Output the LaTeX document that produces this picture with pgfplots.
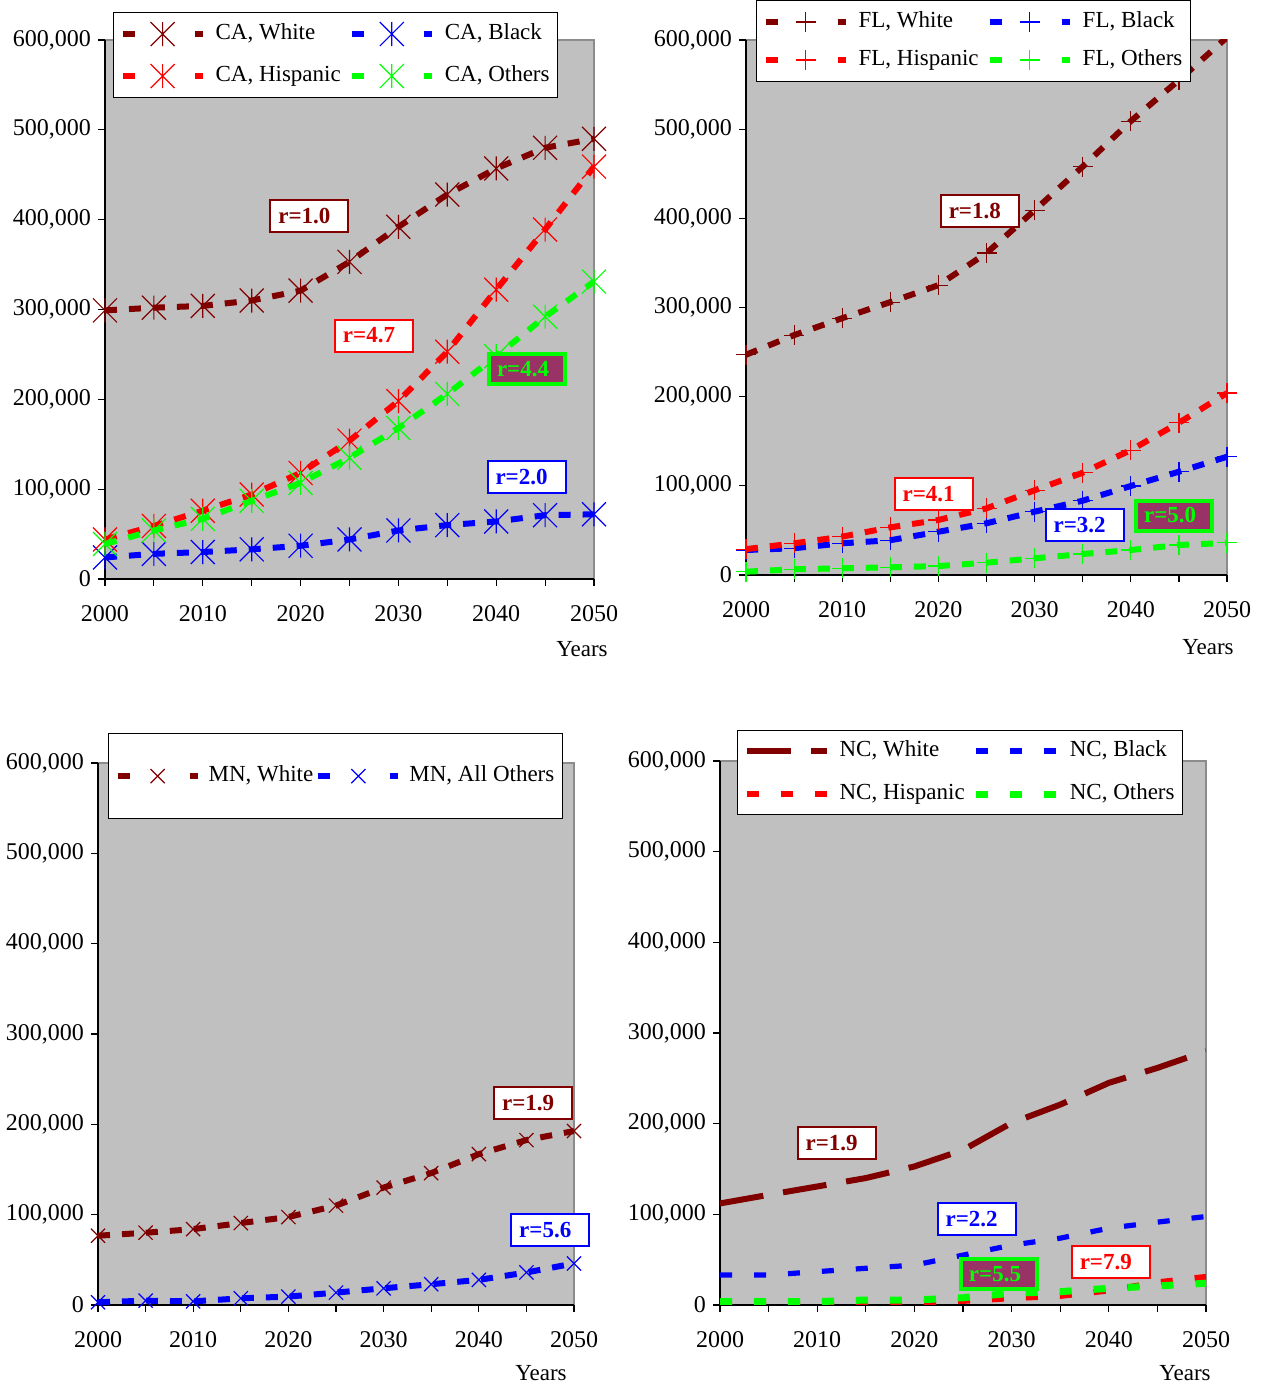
\documentclass[border=0pt]{standalone}
\usepackage{fontspec}
\setmainfont{Liberation Serif}
\usepackage{pgfplots}
\usepackage{pgfplotstable}
\pgfplotsset{compat=1.18}

\definecolor{darkred}{HTML}{800000}
\definecolor{xblue}{HTML}{0000FF}
\definecolor{xred}{HTML}{FF0000}
\definecolor{xgreen}{HTML}{00FF00}
\definecolor{plum}{HTML}{993366}
\definecolor{plotgray}{HTML}{C0C0C0}
\definecolor{bordergray}{HTML}{8C8C8C}

% star marker: a diagonal cross with a vertical bar through it
\pgfdeclareplotmark{xstar}{%
  \pgfpathmoveto{\pgfqpoint{-\pgfplotmarksize}{-\pgfplotmarksize}}%
  \pgfpathlineto{\pgfqpoint{\pgfplotmarksize}{\pgfplotmarksize}}%
  \pgfpathmoveto{\pgfqpoint{-\pgfplotmarksize}{\pgfplotmarksize}}%
  \pgfpathlineto{\pgfqpoint{\pgfplotmarksize}{-\pgfplotmarksize}}%
  \pgfpathmoveto{\pgfqpoint{0pt}{-\pgfplotmarksize}}%
  \pgfpathlineto{\pgfqpoint{0pt}{\pgfplotmarksize}}%
  \pgfusepathqstroke}

% population tables (persons)
\pgfplotstableread{
year white black hisp others
2000 299000 24000 44000 39000
2005 302000 28000 59000 54000
2010 304000 30000 76000 67000
2015 310000 33000 94000 87000
2020 321000 37000 118000 107000
2025 353000 44000 154000 135000
2030 392000 54000 198000 168000
2035 428000 60000 253000 206000
2040 457000 64000 322000 248000
2045 480000 71000 389000 292000
2050 490000 72000 459000 331000
}\ca

\pgfplotstableread{
year white black hisp others
2000 247000 28000 29000 3700
2005 269000 30000 35500 6400
2010 288000 35500 43000 7500
2015 306000 39000 53400 8600
2020 325000 48500 61700 10000
2025 361000 58000 74700 13800
2030 409000 71000 95000 18700
2035 458000 83300 114700 23500
2040 509000 99800 140000 28000
2045 555000 115800 170700 33600
2050 603000 132600 204000 36000
}\fl

\pgfplotstableread{
year white others
2000 76700 3000
2005 80000 4800
2010 84000 4000
2015 90700 7400
2020 97400 9300
2025 110000 13700
2030 130000 18500
2035 146000 23000
2040 167000 27800
2045 182600 36000
2050 192600 46000
}\mn

\pgfplotstableread{
year white black hisp others
2000 112000 33000 1000 3700
2005 121500 33000 1300 3700
2010 130700 36800 1700 3700
2015 140000 40500 2000 5500
2020 152800 44000 2500 5500
2025 171000 55000 4500 8000
2030 200800 66000 7500 13000
2035 221000 73700 10000 14700
2040 245000 84700 16000 18400
2045 261500 91400 25000 21000
2050 280000 97600 31000 24000
}\nc

\newcommand{\txt}{\fontsize{11.5}{13}\selectfont}
\newcommand{\ticktxt}{\fontsize{12}{14}\selectfont}

\tikzset{
  rdash/.style={line width=3pt, dash pattern=on 6pt off 6pt},
  rbox/.style={draw=#1, text=#1, fill=white, line width=1pt,
    font=\bfseries\txt, inner xsep=4pt, text width=31pt, align=left,
    minimum height=16pt},
  gbox/.style={draw=xgreen, text=xgreen, fill=plum, line width=2pt,
    font=\bfseries\txt, inner xsep=4pt, text width=30pt, align=left,
    minimum height=15pt},
}

\pgfplotsset{
  statepanel/.style={
    scale only axis,
    xmin=2000, xmax=2050, ymin=0, ymax=600000,
    xtick={2000,2010,...,2050},
    minor xtick={2005,2015,...,2045},
    ytick={0,100000,...,600000},
    tick align=outside,
    major tick length=3.5pt, minor tick length=3.5pt,
    tick style={black, line width=0.6pt},
    axis x line*=bottom, axis y line*=left,
    axis line style={black, line width=0.8pt},
    axis background/.style={fill=plotgray, draw=bordergray, line width=1pt},
    scaled y ticks=false, scaled x ticks=false,
    /pgf/number format/assume math mode=true,
    tick label style={font=\ticktxt},
    y tick label style={/pgf/number format/fixed, /pgf/number format/precision=0,
      /pgf/number format/1000 sep={,}},
    x tick label style={yshift=-6pt, /pgf/number format/fixed,
      /pgf/number format/precision=0, /pgf/number format/1000 sep={}},
    xlabel={Years},
    xlabel style={font=\txt, anchor=center},
    clip mode=individual,
    legend columns=2,
    legend cell align=left,
    legend style={anchor=north west, draw=black, line width=0.6pt, fill=white,
      font=\txt, inner xsep=3pt, inner ysep=4.5pt, row sep=8.5pt,
      nodes={inner sep=1pt, text height=8pt, text depth=2.5pt},
      /tikz/every odd column/.append style={column sep=4pt},
      /tikz/every even column/.append style={column sep=3pt}},
  },
  marklegimg/.style={
    legend image code/.code={%
      \draw[##1,solid] (0pt,0pt) -- (6pt,0pt);
      \draw[##1,solid] (36pt,0pt) -- (40pt,0pt);
      \draw[##1] plot coordinates {(20pt,0pt)};
    },
  },
  linelegimg/.style={
    legend image code/.code={\draw[##1] (0pt,0pt) -- (40pt,0pt);},
  },
}

\begin{document}
\begin{tikzpicture}
\useasboundingbox (0,0) rectangle (631.5pt,692.5pt);

% ---------- California ----------
\begin{axis}[statepanel, marklegimg,
  at={(52.5pt,403pt)}, anchor=south west, width=244.5pt, height=269.5pt,
  xlabel style={at={(axis description cs:0.9755,-0.13)}},
  legend style={at={(axis description cs:0.0164,1.052)}},
  every axis plot/.append style={rdash, mark=xstar, mark size=6pt,
    mark options={solid, line width=0.6pt}},
]
\addplot[darkred] table[x=year,y=white]{\ca};
\addlegendentry{CA, White}
\addplot[xblue] table[x=year,y=black]{\ca};
\addlegendentry{CA, Black}
\addplot[xred] table[x=year,y=hisp]{\ca};
\addlegendentry{CA, Hispanic}
\addplot[xgreen] table[x=year,y=others]{\ca};
\addlegendentry{CA, Others}
\node[rbox=darkred] at (axis cs:2020.9,404000) {r=1.0};
\node[rbox=xred] at (axis cs:2027.5,271000) {r=4.7};
\node[gbox] at (axis cs:2043.15,234000) {r=4.4};
\node[rbox=xblue] at (axis cs:2043.1,113000) {r=2.0};
\end{axis}

% ---------- Florida ----------
\begin{axis}[statepanel, marklegimg,
  at={(373pt,405pt)}, anchor=south west, width=240.5pt, height=267.5pt,
  xlabel style={at={(axis description cs:0.9605,-0.1346)}},
  legend style={at={(axis description cs:0.0208,1.0748)}, row sep=6.5pt},
  every axis plot/.append style={rdash, mark=+, mark size=5pt,
    mark options={solid, line width=0.6pt}},
]
\addplot[darkred] table[x=year,y=white]{\fl};
\addlegendentry{FL, White}
\addplot[xblue] table[x=year,y=black]{\fl};
\addlegendentry{FL, Black}
\addplot[xred] table[x=year,y=hisp]{\fl};
\addlegendentry{FL, Hispanic}
\addplot[xgreen] table[x=year,y=others]{\fl};
\addlegendentry{FL, Others}
\node[rbox=darkred] at (axis cs:2024.3,408600) {r=1.8};
\node[rbox=xred] at (axis cs:2019.5,90800) {r=4.1};
\node[rbox=xblue] at (axis cs:2035.2,55500) {r=3.2};
\node[gbox] at (axis cs:2044.5,66700) {r=5.0};
\end{axis}

% ---------- Minnesota ----------
\begin{axis}[statepanel, marklegimg,
  at={(49pt,40pt)}, anchor=south west, width=238pt, height=271pt,
  xlabel style={at={(axis description cs:0.9307,-0.1255)}},
  legend style={at={(axis description cs:0.021,1.0554)}, inner ysep=15pt,
    /tikz/every odd column/.append style={column sep=3pt},
    /tikz/every even column/.append style={column sep=0pt}},
  every axis plot/.append style={rdash, mark=x, mark size=5pt,
    mark options={solid, line width=0.6pt}},
]
\addplot[darkred] table[x=year,y=white]{\mn};
\addlegendentry{MN, White}
\addplot[xblue] table[x=year,y=others]{\mn};
\addlegendentry{MN, All Others}
\node[rbox=darkred] at (axis cs:2045.7,223600) {r=1.9};
\node[rbox=xblue] at (axis cs:2047.5,82500) {r=5.6};
\end{axis}

% ---------- North Carolina ----------
\begin{axis}[statepanel, linelegimg,
  at={(360pt,40pt)}, anchor=south west, width=243pt, height=272pt,
  xlabel style={at={(axis description cs:0.9568,-0.125)}},
  legend style={at={(axis description cs:0.035,1.057)}, inner ysep=4pt,
    row sep=9pt},
]
\addplot[darkred, line width=3pt, dash pattern=on 22pt off 10pt] table[x=year,y=white]{\nc};
\addlegendentry{NC, White}
\addplot[xblue, line width=2.6pt, dash pattern=on 6pt off 11pt] table[x=year,y=black]{\nc};
\addlegendentry{NC, Black}
\addplot[xred, line width=3pt, dash pattern=on 6pt off 11pt] table[x=year,y=hisp]{\nc};
\addlegendentry{NC, Hispanic}
\addplot[xgreen, line width=3.5pt, dash pattern=on 6pt off 11pt] table[x=year,y=others]{\nc};
\addlegendentry{NC, Others}
\node[rbox=darkred] at (axis cs:2012.0,179000) {r=1.9};
\node[rbox=xblue] at (axis cs:2026.4,94900) {r=2.2};
\node[gbox] at (axis cs:2028.7,34200) {r=5.5};
\node[rbox=xred] at (axis cs:2040.2,46900) {r=7.9};
\end{axis}
\end{tikzpicture}
\end{document}
